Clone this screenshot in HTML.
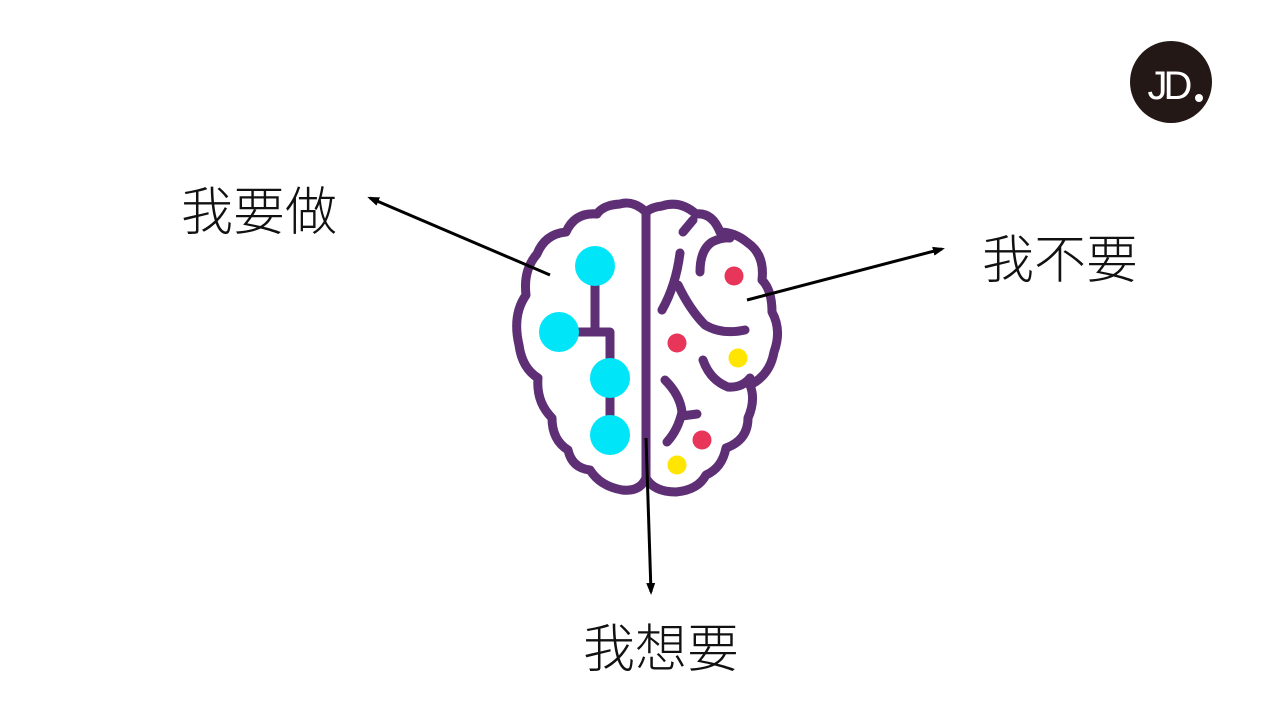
<!DOCTYPE html>
<html><head><meta charset="utf-8"><style>
body{margin:0;background:#fff;width:1280px;height:720px;overflow:hidden;position:relative;font-family:"Liberation Sans","Noto Sans CJK SC",sans-serif}
.t{position:absolute;font-size:52px;font-weight:300;color:#111;line-height:1;font-family:"Noto Sans CJK SC",sans-serif}
</style></head><body>
<svg width="1280" height="720" style="position:absolute;left:0;top:0">
<defs><marker id="a" markerWidth="12" markerHeight="12" refX="9" refY="6" orient="auto" markerUnits="userSpaceOnUse"><path d="M0,1.5 L12,6 L0,10.5z" fill="#000"/></marker></defs>
<g fill="none" stroke="#5e2f74" stroke-width="9" stroke-linecap="round" stroke-linejoin="round">
<path d="M646,212 Q633,200 620,204 Q603,205 597,214 Q575,212 566,232 Q545,234 537,254 Q523,270 526,295 Q512,315 519,345 Q522,368 538,378 Q536,402 552,418 Q552,440 568,450 Q572,468 590,470 Q600,486 622,490 Q640,492 646,478 Q654,492 676,492 Q698,490 706,475 Q722,468 726,448 Q748,440 748,418 Q756,400 750,385 Q770,375 774,352 Q782,330 772,312 Q772,290 762,280 Q765,255 748,243 Q735,232 720,232 Q712,212 696,214 Q680,200 662,206 Q652,207 646,212Z"/>
<path d="M646,212 L646,478"/>
<path d="M595,266 V332 M559,332 H610 V435"/>
<path d="M683,232 L693,220"/>
<path d="M680,253 Q676,285 662,310"/>
<path d="M678,285 Q690,310 705,325 Q722,335 745,330"/>
<path d="M700,272 Q700,250 712,242 Q722,237 730,238"/>
<path d="M703,360 Q710,380 728,387 Q742,388 750,378"/>
<path d="M665,380 Q680,395 682,412 Q678,430 667,442"/>
<path d="M682,416 L697,414"/>
</g>
<g fill="#00e5f8"><circle cx="595" cy="266" r="20"/><circle cx="559" cy="332" r="20"/><circle cx="610" cy="378" r="20"/><circle cx="610" cy="435" r="20"/></g>
<g fill="#e8365a"><circle cx="734" cy="276" r="9.5"/><circle cx="677" cy="343" r="9.5"/><circle cx="702" cy="440" r="9.5"/></g>
<g fill="#ffe500"><circle cx="738" cy="358" r="9.5"/><circle cx="677" cy="465" r="9.5"/></g>
<g stroke="#000" stroke-width="3"><line x1="550" y1="275" x2="370" y2="198" marker-end="url(#a)"/><line x1="747" y1="300" x2="942" y2="249" marker-end="url(#a)"/><line x1="646" y1="438" x2="651" y2="592" marker-end="url(#a)"/></g>
<circle cx="1171" cy="82" r="41" fill="#231815"/>
<text x="1168" y="99" font-family="Liberation Sans" font-size="40" fill="#fff" text-anchor="middle" letter-spacing="-4">JD</text>
<circle cx="1199" cy="98" r="4" fill="#fff"/>
</svg>
<div class="t" style="left:181px;top:182px">我要做</div>
<div class="t" style="left:982px;top:230px">我不要</div>
<div class="t" style="left:583px;top:619px">我想要</div>
</body></html>
